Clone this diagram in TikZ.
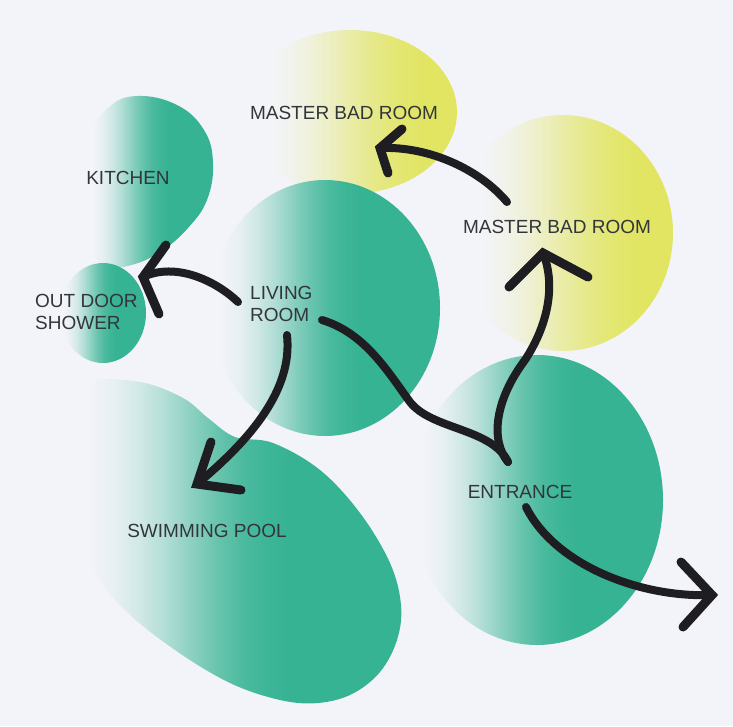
\documentclass[tikz,border=0pt]{standalone}
\usepackage{fontspec}
\setmainfont{Liberation Sans}

\definecolor{paper}{RGB}{243,244,249}
\definecolor{roomgreen}{RGB}{54,179,147}
\definecolor{roomyellow}{RGB}{225,229,98}
\definecolor{ink}{RGB}{30,29,33}
\definecolor{labelgray}{RGB}{50,54,58}

% blobs fade smoothly from paper white on the left into full colour
\pgfdeclarehorizontalshading{greenfade}{100bp}{%
  color(0bp)=(paper); color(27bp)=(paper);
  color(31bp)=(roomgreen!6!paper);
  color(35bp)=(roomgreen!18!paper);
  color(39bp)=(roomgreen!35!paper);
  color(43bp)=(roomgreen!55!paper);
  color(47bp)=(roomgreen!74!paper);
  color(51bp)=(roomgreen!89!paper);
  color(55bp)=(roomgreen!97!paper);
  color(58bp)=(roomgreen);
  color(100bp)=(roomgreen)}
\pgfdeclarehorizontalshading{yellowfade}{100bp}{%
  color(0bp)=(paper); color(30bp)=(paper);
  color(35bp)=(roomyellow!6!paper);
  color(40bp)=(roomyellow!18!paper);
  color(45bp)=(roomyellow!35!paper);
  color(50bp)=(roomyellow!55!paper);
  color(55bp)=(roomyellow!73!paper);
  color(60bp)=(roomyellow!87!paper);
  color(64bp)=(roomyellow!95!paper);
  color(68bp)=(roomyellow);
  color(100bp)=(roomyellow)}

\tikzset{
  greenblob/.style={shading=greenfade},
  yellowblob/.style={shading=yellowfade},
  marker/.style={draw=ink, line width=8pt, line cap=round, line join=round},
  barb/.style={draw=ink, line width=9pt, line cap=round},
  lab/.style={font=\fontsize{19}{22}\selectfont, text=labelgray,
              inner sep=0pt, align=left}
}

\begin{document}
\begin{tikzpicture}[x=1pt, y=-1pt]
  \useasboundingbox (0,0) rectangle (733,726);
  \fill[paper] (0,0) rectangle (733,726);

  % room bubbles, back to front
  \shade[yellowblob] (350,112) ellipse [x radius=107, y radius=82];
  \shade[yellowblob] (563,233) ellipse [x radius=110, y radius=118];
  \shade[greenblob] plot[smooth cycle, tension=0.7] coordinates {
    (137,96) (177,105) (204,130) (213,163) (207,200) (188,228)
    (163,250) (135,264) (110,266) (92,250) (87,200) (90,140) (108,108)};
  \shade[greenblob] (103,313) ellipse [x radius=43, y radius=50];
  \shade[greenblob] (325,308) ellipse [x radius=115, y radius=128];
  \shade[greenblob] plot[smooth cycle, tension=0.6] coordinates {
    (90,383) (140,382) (183,398) (208,418) (235,437) (273,443)
    (320,470) (360,513) (390,563) (401,605) (397,640) (380,672)
    (352,694) (318,703) (280,700) (230,683) (175,650) (125,610)
    (92,565) (76,490) (76,420)};
  \shade[greenblob] (537,500) ellipse [x radius=126, y radius=145];

  % labels
  \node[lab] (mbrTop)   at (344,113) {MASTER BAD ROOM};
  \node[lab] (mbrRight) at (557,227) {MASTER BAD ROOM};
  \node[lab] (kitchen)  at (128,178) {KITCHEN};
  \node[lab, anchor=west] (living) at (250,303.5) {LIVING\\ROOM};
  \node[lab, anchor=west] (shower) at (35,312) {OUT DOOR\\SHOWER};
  \node[lab] (entrance) at (520,492) {ENTRANCE};
  \node[lab] (pool)     at (207,531) {SWIMMING POOL};

  % connector ends
  \coordinate (lr-out)   at (238,302);
  \coordinate (lr-pool)  at (287,335);
  \coordinate (lr-ent)   at (322,320);
  \coordinate (sh-tip)   at (143,277);
  \coordinate (sh-b1)    at (166,245);
  \coordinate (sh-b2)    at (159,314);
  \coordinate (pl-tip)   at (197,484);
  \coordinate (pl-b1)    at (211,442);
  \coordinate (pl-b2)    at (241,490);
  \coordinate (en-v)     at (508,462);
  \coordinate (mr-tip)   at (543,253);
  \coordinate (mr-b1)    at (509,287);
  \coordinate (mr-b2)    at (588,277);
  \coordinate (mr-out)   at (507,202);
  \coordinate (mt-tip)   at (380,148);
  \coordinate (mt-b1)    at (402,129);
  \coordinate (mt-b2)    at (388,173);
  \coordinate (en-out)   at (526,507);
  \coordinate (ex-tip)   at (712,595);
  \coordinate (ex-b1)    at (681,562);
  \coordinate (ex-b2)    at (683,627);

  % living room to kitchen / shower
  \draw[marker] (lr-out) .. controls (215,280) and (175,262) .. (sh-tip);
  \draw[barb] (sh-b1) -- (sh-tip) -- (sh-b2);

  % living room to swimming pool
  \draw[marker] (lr-pool) .. controls (293,390) and (250,440) .. (pl-tip);
  \draw[barb] (pl-b1) -- (pl-tip) -- (pl-b2);

  % living room down to the entrance
  \draw[marker] (lr-ent) .. controls (365,333) and (388,372) .. (410,402)
                         .. controls (432,430) and (492,428) .. (en-v);

  % entrance up to the master bad room
  \draw[marker] (en-v) .. controls (490,440) and (495,400) .. (525,360)
                       .. controls (548,325) and (556,285) .. (mr-tip);
  \draw[barb] (mr-b1) -- (mr-tip) -- (mr-b2);

  % master bad room to master bad room
  \draw[marker] (mr-out) .. controls (480,170) and (430,146) .. (mt-tip);
  \draw[barb] (mt-b1) -- (mt-tip) -- (mt-b2);

  % entrance out
  \draw[marker] (en-out) .. controls (555,565) and (640,598) .. (ex-tip);
  \draw[barb] (ex-b1) -- (ex-tip) -- (ex-b2);
\end{tikzpicture}
\end{document}
